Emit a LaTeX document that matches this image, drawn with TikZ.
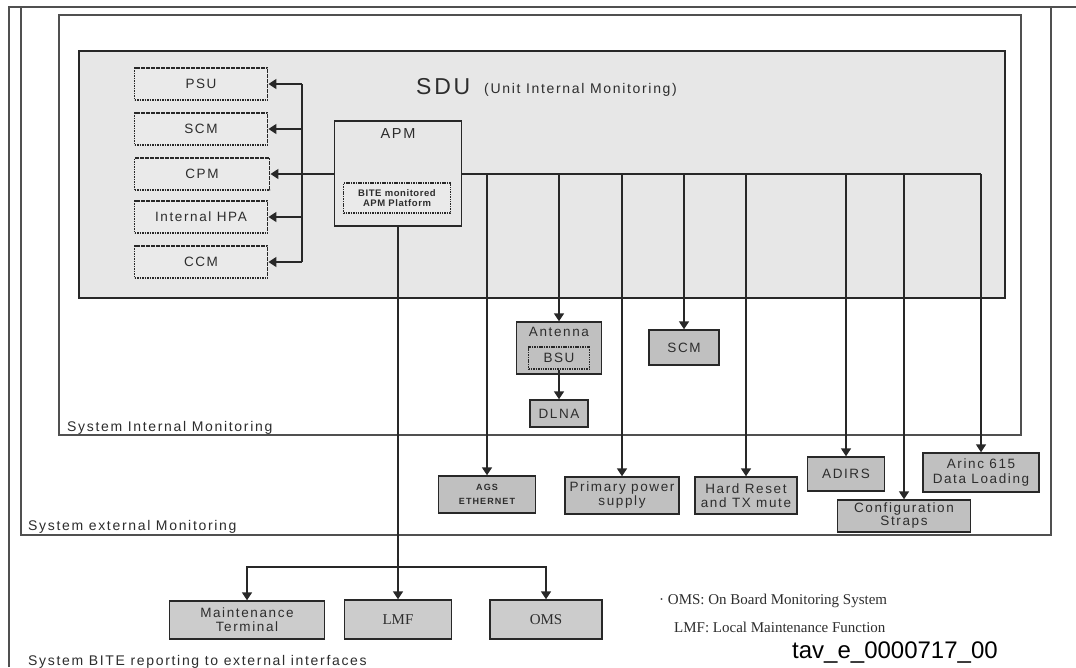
\documentclass[tikz,border=0pt]{standalone}
\usepackage{fontspec}
\setmainfont{Liberation Serif}
\newfontfamily\wide[LetterSpace=12]{Liberation Sans}
\newfontfamily\widetight[LetterSpace=6]{Liberation Sans}
\newfontfamily\plainsans{Liberation Sans}
\usetikzlibrary{arrows.meta}

\definecolor{framec}{RGB}{80,80,80}
\definecolor{linec}{RGB}{40,40,40}
\definecolor{txt}{RGB}{45,45,45}
\definecolor{sdufill}{RGB}{231,231,231}
\definecolor{innerfill}{RGB}{234,234,234}
\definecolor{boxfill}{RGB}{192,192,192}
\definecolor{lowfill}{RGB}{204,204,204}

\newcommand\boxfont{\wide\fontsize{13.5}{14}\selectfont}
\newcommand\framefont{\wide\fontsize{14}{15}\selectfont}

\begin{document}
\begin{tikzpicture}[x=1pt,y=-1pt,
  frame/.style={draw=framec, line width=1.5pt, inner sep=0pt},
  conn/.style={draw=linec, line width=1.5pt},
  arr/.style={conn, -{Triangle[length=8pt,width=10pt]}},
  dbox/.style={draw=linec, line width=1.9pt, dash pattern=on 1.6pt off 0.9pt,
    fill=innerfill, minimum width=133pt, minimum height=32pt, inner sep=0pt,
    font=\boxfont, text=txt},
  gbox/.style={draw=linec, line width=1.4pt, fill=boxfill, inner sep=0pt,
    align=center, font=\boxfont, text=txt},
  lbox/.style={gbox, fill=lowfill},
  flabel/.style={anchor=base west, inner sep=0pt, font=\framefont, text=txt},
  legend/.style={anchor=base west, inner sep=0pt,
    font=\rmfamily\fontsize{15}{17}\selectfont, text=txt}]

\useasboundingbox (0,0) rectangle (1076,667);
\fill[white] (0,0) rectangle (1076,667);

% nested monitoring frames
\draw[frame] (9,667) -- (9,7) -- (1076,7);
\node[frame, minimum width=1030pt, minimum height=528pt] (extframe) at (536,271) {};
\node[frame, minimum width=962pt, minimum height=420pt] (intframe) at (540,225) {};
\node[frame, draw=linec, fill=sdufill, minimum width=926pt, minimum height=247pt] (sdu) at (542,174.5) {};

\node[flabel] (intlabel) at (67,431) {System Internal Monitoring};
\node[flabel] (extlabel) at (28,530) {System external Monitoring};
\node[flabel] (bitelabel) at (28,665) {System BITE reporting to external interfaces};

% SDU title
\node[anchor=base west, inner sep=0pt, text=txt, font=\wide\fontsize{23}{26}\selectfont] (sdutitle) at (416,94) {SDU};
\node[anchor=base west, inner sep=0pt, text=txt, font=\wide\fontsize{14}{16}\selectfont] (sdusub) at (484,93) {(Unit Internal Monitoring)};

% internal modules
\node[dbox] (psu) at (201,84) {PSU};
\node[dbox] (scm) at (201,129) {SCM};
\node[dbox, minimum width=135pt] (cpm) at (202,174) {CPM};
\node[dbox] (hpa) at (201,217) {Internal HPA};
\node[dbox] (ccm) at (201,262) {CCM};

% APM
\node[frame, draw=linec, line width=1.4pt, fill=sdufill, minimum width=127pt, minimum height=105pt] (apm) at (398,173.5) {};
\node[inner sep=0pt, text=txt, font=\wide\fontsize{14.5}{16}\selectfont] (apmlabel) at (398,134) {APM};
\node[draw=linec, line width=1.8pt, dash pattern=on 1.5pt off 0.9pt, fill=innerfill,
  minimum width=107pt, minimum height=30pt, inner sep=0pt, align=center, text=txt,
  font=\widetight\bfseries\fontsize{9.5}{10.5}\selectfont] (bite) at (397,198) {BITE monitored\\APM Platform};

% left distribution
\coordinate (lbtop) at (302,84);
\coordinate (lbbot) at (302,262);
\draw[conn] (lbtop) -- (lbbot);
\draw[arr] (lbtop) -- (psu.east);
\draw[arr] (lbtop |- scm.east) -- (scm.east);
\draw[arr] (apm.west |- cpm.east) -- (cpm.east);
\draw[arr] (lbtop |- hpa.east) -- (hpa.east);
\draw[arr] (lbbot) -- (ccm.east);

% equipment outside the SDU
\node[gbox, minimum width=97pt, minimum height=37pt, font=\wide\bfseries\fontsize{9}{13.5}\selectfont] (ags) at (487,494.5) {AGS\\ETHERNET};
\node[gbox, minimum width=85pt, minimum height=52pt] (antenna) at (559,348) {};
\node[inner sep=0pt, text=txt, font=\boxfont] (antlabel) at (559,332) {Antenna};
\node[draw=linec, line width=1.8pt, dash pattern=on 1.5pt off 0.9pt, fill=boxfill,
  minimum width=61pt, minimum height=22pt, inner sep=0pt, text=txt, font=\boxfont] (bsu) at (559,358) {BSU};
\node[gbox, minimum width=58pt, minimum height=27pt] (dlna) at (559,413.5) {DLNA};
\node[gbox, minimum width=70pt, minimum height=35pt] (scmx) at (684,347.5) {SCM};
\node[gbox, minimum width=114pt, minimum height=37pt] (pps) at (622,495.5) {Primary power\\supply};
\node[gbox, minimum width=102pt, minimum height=37pt] (hrst) at (746,495.5) {Hard Reset\\and TX mute};
\node[gbox, minimum width=77pt, minimum height=34pt] (adirs) at (846,474) {ADIRS};
\node[gbox, minimum width=133pt, minimum height=32pt, font=\wide\fontsize{13.5}{13}\selectfont] (straps) at (904,516) {Configuration\\Straps};
\node[gbox, minimum width=116pt, minimum height=39pt, font=\wide\fontsize{13.5}{15}\selectfont] (arinc) at (981,472.5) {Arinc 615\\Data Loading};

% APM bus
\coordinate (busend) at (981,174);
\draw[conn] (apm.east |- cpm.east) -- (busend);
\draw[arr] (busend -| ags.north) -- (ags.north);
\draw[arr] (busend -| antenna.north) -- (antenna.north);
\draw[arr] (busend -| pps.north) -- (pps.north);
\draw[arr] (busend -| scmx.north) -- (scmx.north);
\draw[arr] (busend -| hrst.north) -- (hrst.north);
\draw[arr] (busend -| adirs.north) -- (adirs.north);
\draw[arr] (busend -| straps.north) -- (straps.north);
\draw[arr] (busend) -- (arinc.north);
\draw[arr] (bsu.south) -- (dlna.north);

% external reporting
\node[lbox, minimum width=155pt, minimum height=38pt] (mt) at (247,620) {Maintenance\\Terminal};
\node[lbox, minimum width=107pt, minimum height=39pt, font=\rmfamily\fontsize{15}{17}\selectfont] (lmf) at (398,619.5) {LMF};
\node[lbox, minimum width=112pt, minimum height=39pt, font=\rmfamily\fontsize{15}{17}\selectfont] (oms) at (546,619.5) {OMS};

\draw[arr] (apm.south) -- (lmf.north);
\coordinate (thk) at (398,407);
\coordinate (thkend) at (398,590);
\draw[draw=linec, line width=2.4pt] (thk) -- (thkend);
\coordinate (jn) at (398,567);
\draw[arr] (jn) -| (mt.north);
\draw[arr] (jn) -| (oms.north);

% legend
\node[legend] (leg1) at (659,604) {\textperiodcentered\ OMS: On Board Monitoring System};
\node[legend] (leg2) at (674,632) {LMF: Local Maintenance Function};
\node[anchor=base west, inner sep=0pt, font=\plainsans\fontsize{24}{26}\selectfont, text=black] (tav) at (792,658) {tav\_e\_0000717\_00};

\end{tikzpicture}
\end{document}
